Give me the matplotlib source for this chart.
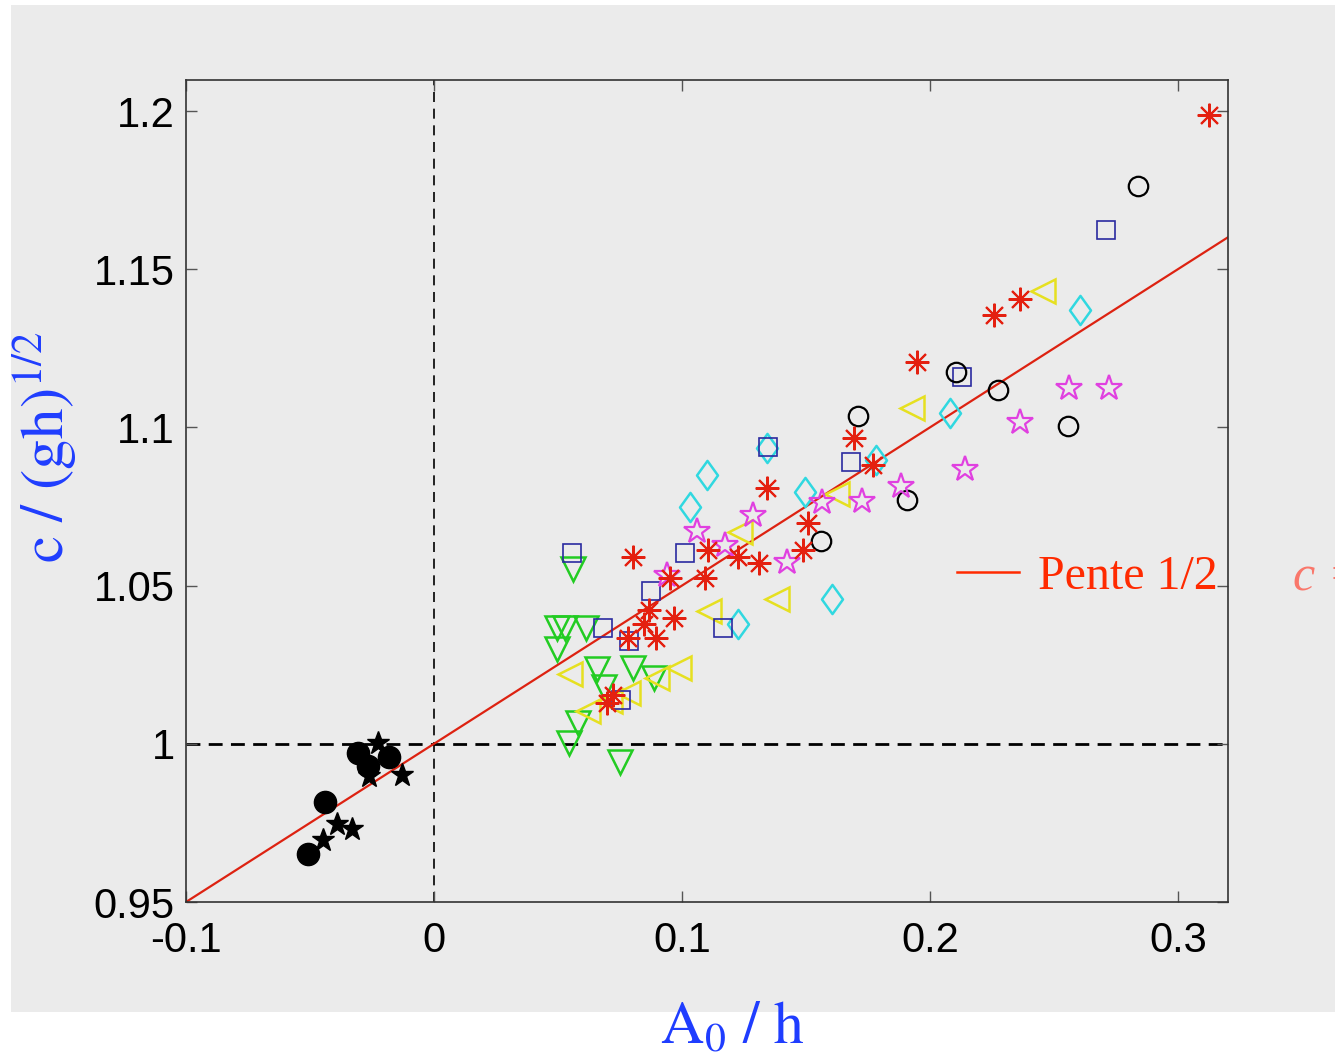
import numpy as np
import matplotlib
matplotlib.use("Agg")
import matplotlib.pyplot as plt
from matplotlib.patches import Rectangle
from matplotlib.lines import Line2D
from matplotlib.path import Path

# data (A0/h , c/sqrt(gh))
neg_circ_x = [-0.0306, -0.0266, -0.0181, -0.0440, -0.0508]
neg_circ_y = [0.9972, 0.9930, 0.9959, 0.9816, 0.9652]
neg_star_x = [-0.0226, -0.0262, -0.0129, -0.0391, -0.0331, -0.0448]
neg_star_y = [1.0003, 0.9899, 0.9902, 0.9747, 0.9731, 0.9696]

ast_x = [0.3125, 0.2363, 0.2258, 0.1948, 0.1694, 0.1770, 0.1343, 0.1508, 0.1488, 0.1310,
         0.1226, 0.1105, 0.1093, 0.0952, 0.0802, 0.0867, 0.0968, 0.0847, 0.0895, 0.0782,
         0.0698, 0.0722]
ast_y = [1.1987, 1.1405, 1.1354, 1.1206, 1.0968, 1.0880, 1.0810, 1.0699, 1.0611, 1.0570,
         1.0589, 1.0611, 1.0525, 1.0525, 1.0589, 1.0424, 1.0399, 1.0380, 1.0335, 1.0335,
         1.0130, 1.0155]

pstar_x = [0.0940, 0.1060, 0.1173, 0.1286, 0.1423, 0.1565, 0.1726, 0.1883, 0.2141, 0.2363,
           0.2560, 0.2722]
pstar_y = [1.0532, 1.0671, 1.0627, 1.0722, 1.0576, 1.0763, 1.0766, 1.0816, 1.0867, 1.1016,
           1.1123, 1.1123]

circ_x = [0.2839, 0.2105, 0.2274, 0.2556, 0.1710, 0.1907, 0.1560]
circ_y = [1.1763, 1.1174, 1.1117, 1.1006, 1.1035, 1.0769, 1.0642]

sq_x = [0.2710, 0.2129, 0.1681, 0.1347, 0.0556, 0.1012, 0.0875, 0.0681, 0.0786, 0.1165, 0.0754]
sq_y = [1.1623, 1.1158, 1.0892, 1.0937, 1.0604, 1.0604, 1.0484, 1.0367, 1.0326, 1.0367, 1.0139]

dia_x = [0.2605, 0.2081, 0.1782, 0.1496, 0.1343, 0.1101, 0.1032, 0.1605, 0.1226]
dia_y = [1.1370, 1.1047, 1.0896, 1.0797, 1.0934, 1.0848, 1.0747, 1.0459, 1.0380]

ltri_x = [0.2456, 0.1927, 0.1625, 0.1234, 0.1383, 0.1109, 0.0988, 0.0899, 0.0548, 0.0782,
          0.0710, 0.0621]
ltri_y = [1.1430, 1.1060, 1.0791, 1.0668, 1.0459, 1.0421, 1.0241, 1.0209, 1.0222, 1.0161,
          1.0136, 1.0104]

dtri_x = [0.0560, 0.0496, 0.0528, 0.0613, 0.0496, 0.0657, 0.0685, 0.0802, 0.0887, 0.0581,
          0.0544, 0.0750]
dtri_y = [1.0554, 1.0367, 1.0367, 1.0367, 1.0301, 1.0237, 1.0180, 1.0241, 1.0209, 1.0066,
          1.0003, 0.9943]

pente = 0.5
xlim = (-0.1, 0.3202)
ylim = (0.95, 1.2098)
xticks = [-0.1, 0, 0.1, 0.2, 0.3]
xticklabels = ['-0.1', '0', '0.1', '0.2', '0.3']
yticks = [0.95, 1.0, 1.05, 1.1, 1.15, 1.2]
yticklabels = ['0.95', '1', '1.05', '1.1', '1.15', '1.2']

plt.rcParams['mathtext.fontset'] = 'stix'

fig = plt.figure(figsize=(13.35, 10.59), dpi=100)
fig.patch.set_facecolor('white')
bg = '#ebebeb'
fig.patches.append(Rectangle((11/1335, 47/1059), 1324/1335, 1007/1059,
                             transform=fig.transFigure, facecolor=bg, edgecolor='none', zorder=-10))

ax = fig.add_axes([186/1335, 157/1059, 1042/1335, 822/1059])
ax.set_facecolor(bg)

ax.axhline(1.0, color='black', lw=2, ls=(0, (5, 3)), zorder=1)
ax.axvline(0.0, color='black', lw=1.2, ls=(0, (6, 4)), zorder=1)

xl = np.array(xlim)
line, = ax.plot(xl, 1 + pente * xl, color='#dd2211', lw=1.6, zorder=2)

# matlab-like diamond (wider than matplotlib 'd')
diamond = Path([(0, 1), (0.72, 0), (0, -1), (-0.72, 0), (0, 1)],
               [Path.MOVETO, Path.LINETO, Path.LINETO, Path.LINETO, Path.CLOSEPOLY])

mew = 1.8
ax.plot(neg_circ_x, neg_circ_y, 'o', color='black', ms=16, zorder=3)
ax.plot(neg_star_x, neg_star_y, '*', color='black', ms=17, zorder=3)
ax.plot(dtri_x, dtri_y, 'v', mfc='none', mec='#22cc22', ms=17, mew=mew, zorder=3)
ax.plot(ltri_x, ltri_y, '<', mfc='none', mec='#e6e020', ms=17, mew=mew, zorder=3)
ax.plot(dia_x, dia_y, ls='none', marker=diamond, mfc='none', mec='#30d8e0', ms=21, mew=mew, zorder=3)
ax.plot(sq_x, sq_y, 's', mfc='none', mec='#2a2aa0', ms=13, mew=1.2, zorder=3)
ax.plot(circ_x, circ_y, 'o', mfc='none', mec='black', ms=14, mew=1.6, zorder=3)
ax.plot(pstar_x, pstar_y, '*', mfc='none', mec='#e040e0', ms=19, mew=1.6, zorder=3)
ax.plot(ast_x, ast_y, ls='none', marker=(8, 2, 0), color='#e42010', ms=17, mew=1.5, zorder=4)

ax.set_xlim(xlim)
ax.set_ylim(ylim)
ax.set_xticks(xticks)
ax.set_xticklabels(xticklabels)
ax.set_yticks(yticks)
ax.set_yticklabels(yticklabels)
ax.tick_params(direction='in', length=8, width=1, colors='#555555', top=True, right=True,
               labelcolor='black', labelsize=30, pad=8)
ax.tick_params(axis='x', pad=14)
for t in ax.get_xticklabels() + ax.get_yticklabels():
    t.set_family('Liberation Sans')
for s in ax.spines.values():
    s.set_color('#333333')
    s.set_linewidth(1.2)

ax.set_ylabel(r'$\mathrm{c\ /\ (gh)^{1/2}}$', color='#1f3dff', fontsize=44, va='center')
ax.yaxis.set_label_coords((45 - 186) / 1042, (902 - 447) / 822)
ax.set_xlabel(r'$\mathrm{A_0\ /\ h}$', color='#1f3dff', fontsize=43, va='center')
ax.xaxis.set_label_coords((732 - 186) / 1042, (902 - 1027) / 822)

leg = ax.legend([Line2D([0], [0], color='#ff2a00', lw=1.8)], ['Pente 1/2'],
                loc='center left', bbox_to_anchor=(957/1335, 1 - 577/1059),
                bbox_transform=fig.transFigure, frameon=False,
                handlelength=1.3, handletextpad=0.4, borderpad=0, borderaxespad=0,
                prop={'family': 'Liberation Serif', 'size': 34.5})
for t in leg.get_texts():
    t.set_color('#ff2a00')

fig.text(1293/1335, 1 - 578/1059, 'c =', color='#ff5040', alpha=0.75, fontsize=36,
         family='Liberation Serif', style='italic', va='center', ha='left')

fig.savefig('out.png', dpi=100, facecolor=fig.get_facecolor())
